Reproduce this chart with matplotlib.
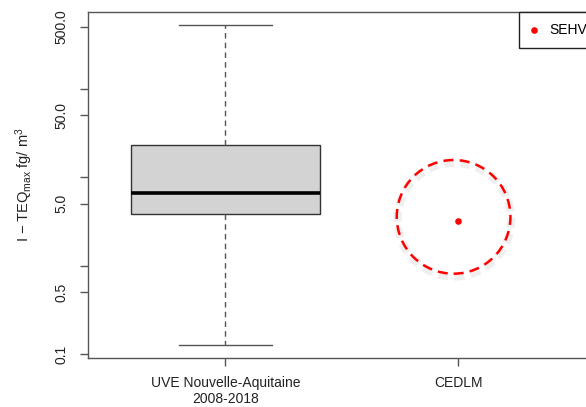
import matplotlib
matplotlib.use('Agg')
import matplotlib.pyplot as plt
import matplotlib.patheffects as pe

plt.rcParams['font.family'] = ['Liberation Sans', 'DejaVu Sans']
plt.rcParams['mathtext.fontset'] = 'custom'
plt.rcParams['mathtext.rm'] = 'Liberation Sans'
plt.rcParams['mathtext.it'] = 'Liberation Sans'

# box stats for the UVE group
groups = ['UVE Nouvelle-Aquitaine\n2008-2018', 'CEDLM']
box_low = 0.126
box_q1 = 3.8
box_med = 6.55
box_q3 = 23.0
box_high = 526
# single measurement for CEDLM
point_x = [2]
point_y = [3.2]
legend_label = 'SEHV'

yticks = [0.1, 0.5, 1, 5, 10, 50, 100, 500]
ytick_labels = ['0.1', '0.5', '', '5.0', '', '50.0', '', '500.0']

fig = plt.figure(figsize=(5.86, 4.07), dpi=100)
ax = fig.add_axes([0.150, 0.1204, 0.8705, 0.8501])

grey = '#555555'
stats = [{'med': box_med, 'q1': box_q1, 'q3': box_q3,
          'whislo': box_low, 'whishi': box_high, 'fliers': []}]
ax.bxp(stats, positions=[1], widths=0.81, patch_artist=True, showfliers=False,
       boxprops=dict(facecolor='#d3d3d3', edgecolor='#333333', linewidth=1),
       medianprops=dict(color='black', linewidth=2.6),
       whiskerprops=dict(color=grey, linestyle=(0, (4, 3)), linewidth=1),
       capprops=dict(color=grey, linewidth=1), capwidths=0.4)

# highlight halo around the point
ax.scatter([point_x[0] - 0.02], [point_y[0] * 1.11], s=6700, facecolors='none',
           edgecolors='red', linestyles=(0, (4, 2.5)), linewidths=1.8, zorder=3,
           path_effects=[pe.SimpleLineShadow(offset=(0.5, -2), shadow_color='grey', alpha=0.12, linewidth=6),
                         pe.Normal()])
ax.scatter(point_x, point_y, s=14, color='red', zorder=4, label=legend_label)

ax.set_yscale('log')
ax.set_ylim(0.0903, 733)
ax.set_xlim(0.41, 2.6)
ax.set_yticks(yticks)
ax.set_yticklabels(ytick_labels, rotation=90, va='center')
ax.minorticks_off()
ax.set_xticks([1, 2])
ax.set_xticklabels(groups)
ax.tick_params(axis='both', colors=grey, labelcolor='#222222', labelsize=10, length=6, width=1)
ax.tick_params(axis='y', pad=8)
ax.tick_params(axis='x', pad=7)
for s in ax.spines.values():
    s.set_color(grey)
    s.set_linewidth(1)

ax.set_ylabel('I $-$ TEQ$_{\\mathrm{max}}$ fg/ m$^{3}$', fontsize=10.5, color='#222222', labelpad=14)

leg = ax.legend(loc='upper right', borderaxespad=0, fancybox=False, edgecolor='#222222',
                fontsize=10, handlelength=0.6, handletextpad=0.8, borderpad=0.8, framealpha=1)
leg.get_frame().set_linewidth(1)

plt.savefig('out.png', dpi=100)
